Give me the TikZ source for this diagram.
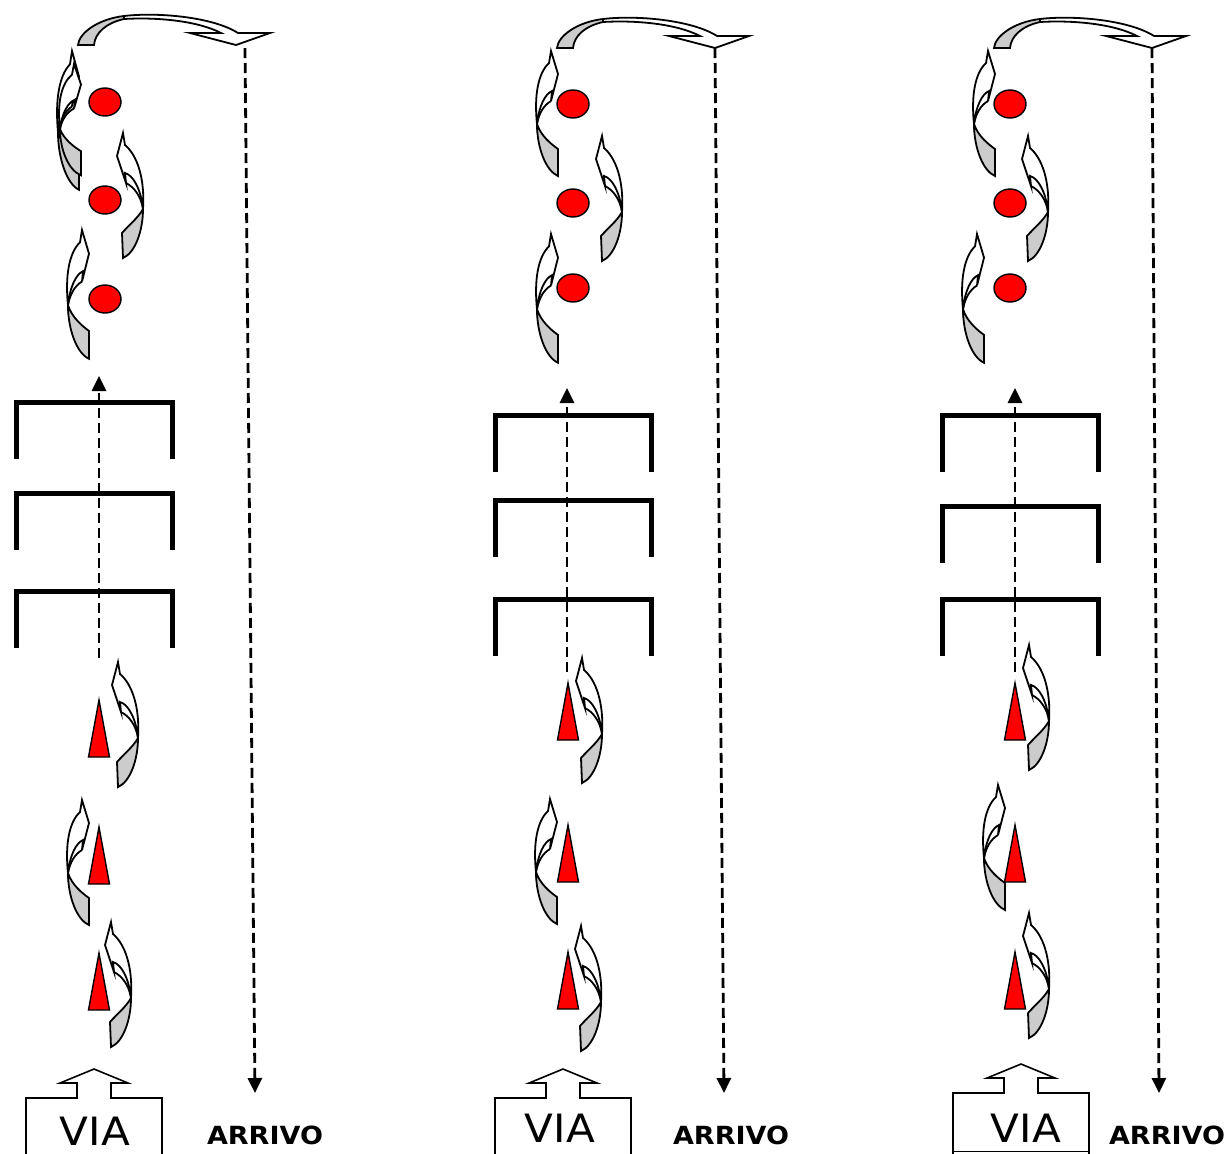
\documentclass[tikz,border=0pt]{standalone}
\usepackage{fontspec}
\setmainfont{DejaVu Sans}
\newfontfamily\viafont[FakeStretch=1.08]{DejaVu Sans}
\newfontfamily\arrfont[FakeStretch=1.08]{DejaVu Sans}
\usepackage{tikz}
\usetikzlibrary{arrows.meta}
\usetikzlibrary{shapes.geometric}
\tikzset{
    ball/.style={
        draw,
        ellipse,
        fill=red,
        line width=0.7pt,
        minimum width=16pt,
        minimum height=14pt,
        inner sep=0pt
    },
    cone/.style={draw, fill=red, line width=0.7pt, line join=miter},
    hood/.style={line width=2.5pt, line join=miter},
    track/.style={
        dash pattern=on 5pt off 2.5pt,
        line width=1.4pt,
        -{Triangle[length=7.5pt, width=7pt]}
    },
    lid/.style={line width=0.8pt, line join=miter},
    ribbon/.style={draw, fill=white, line width=0.9pt},
    ribbonback/.style={draw, fill=black!20, line width=0.9pt},
    vialabel/.style={font=\viafont\fontsize{19.5}{19.5}\selectfont, inner sep=0pt},
    arrlabel/.style={font=\arrfont\bfseries\fontsize{12.5}{12.5}\selectfont, inner sep=0pt},
    pics/curlR/.style={code={
        \draw[ribbon] (0,0) -- (2,12) .. controls (14,22) and (22,45) .. (20,76)
            .. controls (18,56) and (10,42) .. (2,40) -- (3,50) -- (-6,23) -- cycle;
        \draw[line width=0.9pt] (3,50) .. controls (11,54) and (18,63) .. (20,76);
        \draw[ribbonback] (20,76) .. controls (20,98) and (12,120) .. (0,125)
            -- (-1,100) .. controls (5,93) and (15,85) .. (20,76) -- cycle;
    }},
    pics/curlL/.style={code={
        \draw[ribbon] (0,0) -- (-2,12) .. controls (-13,22) and (-17,45) .. (-14,73)
            .. controls (-12,55) and (-6,43) .. (1,40) -- (0,50) -- (7,23) -- cycle;
        \draw[line width=0.9pt] (0,50) .. controls (-7,54) and (-12,62) .. (-14,73);
        \draw[ribbonback] (-14,73) .. controls (-14,97) and (-5,120) .. (7,125)
            -- (7,98) .. controls (0,93) and (-10,85) .. (-14,73) -- cycle;
    }},
    pics/curlover/.style={code={
        \draw[ribbonback] (0,0) .. controls (1,-12) and (20,-26) .. (46,-29)
            -- (46,-26) .. controls (28,-22) and (17,-12) .. (16,0) -- cycle;
        \draw[ribbon] (46,-29) .. controls (80,-33) and (135,-28) .. (160,-12)
            -- (192,-12) -- (158,0) -- (112,-12) -- (143,-12)
            .. controls (120,-24) and (80,-28) .. (46,-26) -- cycle;
    }}
}

\begin{document}
\begin{tikzpicture}[x=0.5pt, y=-0.5pt]
  % Page as large as the drawing
  \useasboundingbox (0,0) rectangle (1229,1153);

  % Dashed way back, from the top arrow down to ARRIVO
  \foreach \p/\ax/\ay/\bx in {1/245/48/255, 2/715/48/724, 3/1152/48/1159} {
    \coordinate (top\p) at (\ax,\ay);
    \coordinate (bot\p) at (\bx,1093);
    \draw[track] (top\p) -- (bot\p);
  }

  % Dashed way up through the hurdles
  \foreach \p/\ux/\ulo/\uhi in {1/99/658/376, 2/567/672/388, 3/1015/672/388} {
    \coordinate (low\p) at (\ux,\ulo);
    \coordinate (high\p) at (\ux,\uhi);
    \draw[track] (low\p) -- (high\p);
  }

  % Hurdles, three in each lane
  \foreach \xa/\xb/\ta/\tb/\tc in {16/172/402/493/591, 495/651/415/500/599, 942/1098/415/506/599} {
    \foreach \t in {\ta,\tb,\tc}
      \draw[hood] (\xa,\t+57) -- (\xa,\t) -- (\xb,\t) -- (\xb,\t+57);
  }

  % Cones
  \foreach \tx/\ta/\tb/\tc in {99/700/827/953, 568/683/825/952, 1015/683/825/952} {
    \foreach \t in {\ta,\tb,\tc}
      \draw[cone] (\tx,\t) -- (\tx+10.5,\t+57) -- (\tx-10.5,\t+57) -- cycle;
  }

  % Red balls
  \foreach \p/\bx/\ya/\yb/\yc in {1/105/102/200/299, 2/573/104/203/288, 3/1010/104/203/288} {
    \node[ball] (ball\p1) at (\bx,\ya) {};
    \node[ball] (ball\p2) at (\bx,\yb) {};
    \node[ball] (ball\p3) at (\bx,\yc) {};
  }

  % Turning arrows round balls and cones
  \foreach \px/\py/\s in {72/51/1.11, 74/64/0.89, 82/230/1.03, 551/51/1, 551/234/1.03,
                          988/51/1, 977/234/1.03, 82/800/1, 550/799/1, 998/785/1}
    \pic[yscale=\s] at (\px,\py) {curlL};
  \foreach \px/\py in {123/133, 602/136, 1028/136, 118/662, 111/922,
                       582/658, 581/926, 1029/645, 1029/913}
    \pic at (\px,\py) {curlR};

  % Arrow over the top of each lane
  \foreach \ox/\oy in {78/45, 557/48, 994/48}
    \pic at (\ox,\oy) {curlover};

  % Start boxes
  \foreach \p/\bx/\by in {1/26/1098, 2/495/1098, 3/953/1093} {
    \draw[lid] (\bx,1170) -- (\bx,\by) -- (\bx+51,\by) -- (\bx+51,\by-15) -- (\bx+34,\by-15)
      -- (\bx+68,\by-29) -- (\bx+102,\by-15) -- (\bx+85,\by-15) -- (\bx+85,\by)
      -- (\bx+136,\by) -- (\bx+136,1170);
  }
  \draw[lid] (953,1151.5) -- (1089,1151.5);
  \node[vialabel] (via1) at (95,1131) {VIA};
  \node[vialabel] (via2) at (560,1128) {VIA};
  \node[vialabel] (via3) at (1026,1128) {VIA};

  % Finish labels
  \node[arrlabel] (arr1) at (265,1135) {ARRIVO};
  \node[arrlabel] (arr2) at (731,1135) {ARRIVO};
  \node[arrlabel] (arr3) at (1167,1135) {ARRIVO};
\end{tikzpicture}
\end{document}
